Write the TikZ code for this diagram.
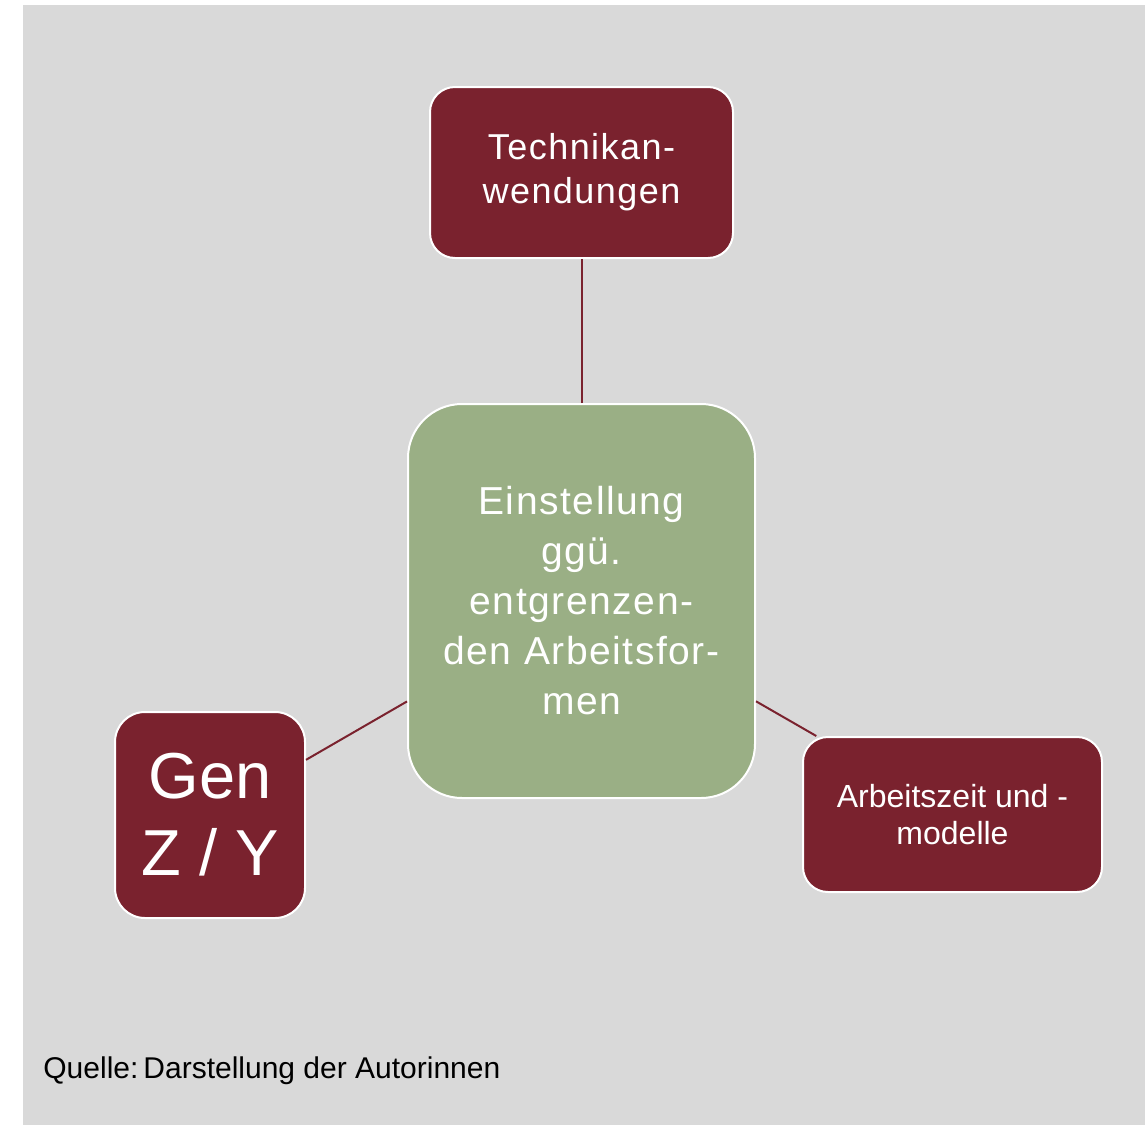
\documentclass[tikz,border=0pt]{standalone}
\usepackage{fontspec}
\setmainfont{Liberation Sans}
\newfontfamily\weitfont[LetterSpace=4]{Liberation Sans}
\usetikzlibrary{positioning}
\definecolor{weinrot}{HTML}{7A222E}
\definecolor{salbei}{HTML}{9AAF85}
\definecolor{hellgrau}{HTML}{D9D9D9}

\begin{document}
\begin{tikzpicture}[x=0.5pt,y=-0.5pt,on grid,
    box/.style={draw=white,line width=1pt,fill=weinrot,text=white,align=center,inner sep=0pt,rounded corners=12.5pt},
    core/.style={box,fill=salbei,rounded corners=27pt},
    link/.style={draw=weinrot,line width=1pt}]
    \useasboundingbox (0,0) rectangle (1145,1125);
    \fill[white] (0,0) rectangle (1145,1125);
    \fill[hellgrau] (23,5) rectangle (1145,1125);

    \node[core, minimum width=173.5pt, minimum height=197pt, font=\weitfont\fontsize{19.5}{25}\selectfont] (haltung) at (581.5,601) {Einstellung\\ggü.\\entgrenzen-\\den Arbeitsfor-\\men};
    \node[box, minimum width=151.5pt, minimum height=85.5pt, font=\weitfont\fontsize{18}{22}\selectfont] (technik) [above=214.25pt of haltung] {Technikan-\\wendungen};
    \node[box, minimum width=95pt, minimum height=103pt, rounded corners=15pt, font=\fontsize{32.5}{38.5}\selectfont] (gen) [below left=107pt and 185.75pt of haltung] {Gen\\Z / Y};
    \node[box, minimum width=149.5pt, minimum height=77.5pt, font=\fontsize{16}{18.5}\selectfont] (zeit) [below right=106.75pt and 185.5pt of haltung] {Arbeitszeit und -\\modelle};

    \path[link]
    (haltung) edge (technik)
    (haltung) edge (gen)
    (haltung) edge (zeit)
    ;

    \node[anchor=base west, inner sep=0pt, font=\fontsize{15}{18}\selectfont] (quelle) at (43,1078) {Quelle:\hspace{2.5pt}Darstellung der Autorinnen};
\end{tikzpicture}
\end{document}
